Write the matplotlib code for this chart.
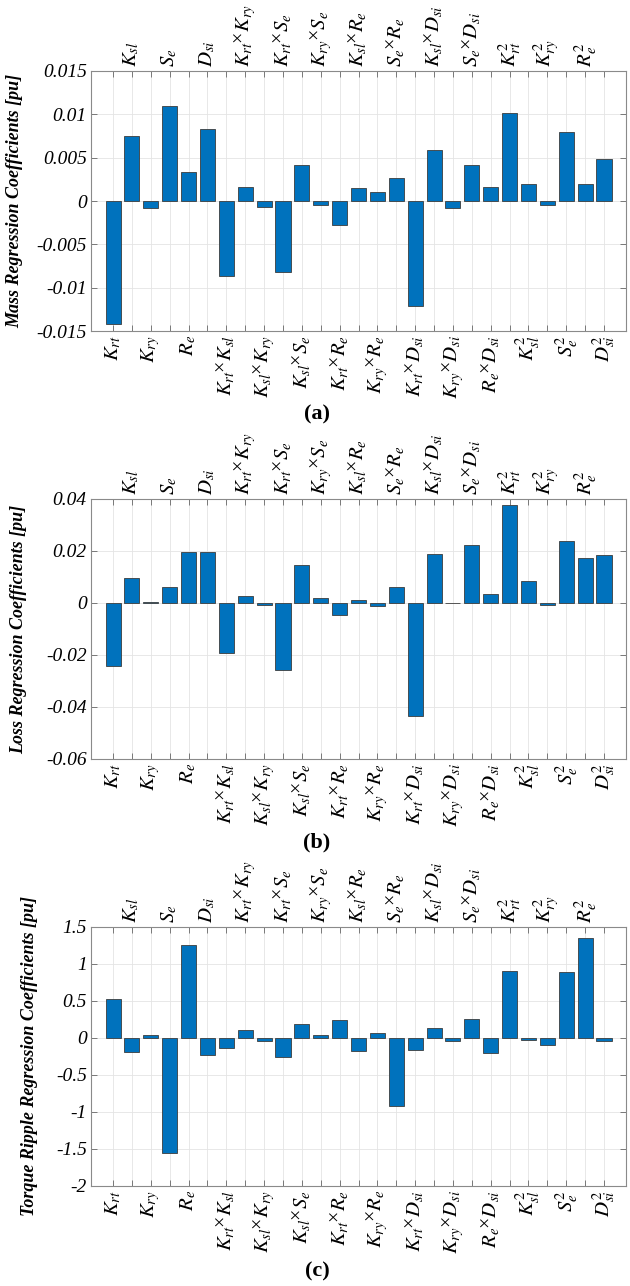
import numpy as np
import matplotlib
matplotlib.use("Agg")
import matplotlib.pyplot as plt
from matplotlib.ticker import FuncFormatter

plt.rcParams['font.family'] = ['Liberation Serif', 'DejaVu Serif']
plt.rcParams['mathtext.fontset'] = 'stix'
plt.rcParams['axes.unicode_minus'] = False

# ----------------------------
# data
# ----------------------------
terms = [
    r'$K_{rt}$', r'$K_{sl}$', r'$K_{ry}$', r'$S_{e}$', r'$R_{e}$', r'$D_{si}$',
    r'$K_{rt}{}^{\times}K_{sl}$', r'$K_{rt}{}^{\times}K_{ry}$', r'$K_{sl}{}^{\times}K_{ry}$',
    r'$K_{rt}{}^{\times}S_{e}$', r'$K_{sl}{}^{\times}S_{e}$', r'$K_{ry}{}^{\times}S_{e}$',
    r'$K_{rt}{}^{\times}R_{e}$', r'$K_{sl}{}^{\times}R_{e}$', r'$K_{ry}{}^{\times}R_{e}$',
    r'$S_{e}{}^{\times}R_{e}$', r'$K_{rt}{}^{\times}D_{si}$', r'$K_{sl}{}^{\times}D_{si}$',
    r'$K_{ry}{}^{\times}D_{si}$', r'$S_{e}{}^{\times}D_{si}$', r'$R_{e}{}^{\times}D_{si}$',
    r'$K^{2}_{rt}$', r'$K^{2}_{sl}$', r'$K^{2}_{ry}$', r'$S^{2}_{e}$', r'$R^{2}_{e}$', r'$D^{2}_{si}$',
]

mass_coef = [
    -0.0142, 0.0075, -0.00085, 0.0110, 0.0034, 0.0083,
    -0.0086, 0.0016, -0.00065, -0.0082, 0.0041, -0.0005,
    -0.0028, 0.00146, 0.00104, 0.0027, -0.0121, 0.0059,
    -0.00085, 0.0042, 0.0016, 0.0101, 0.0020, -0.00046,
    0.0080, 0.0020, 0.0049,
]

loss_coef = [
    -0.0242, 0.0095, 0.0004, 0.0062, 0.0197, 0.0197,
    -0.0194, 0.0026, -0.0009, -0.0256, 0.0145, 0.0020,
    -0.0046, 0.0013, -0.0013, 0.0062, -0.0433, 0.0190,
    -0.0001, 0.0224, 0.0033, 0.0378, 0.0085, -0.0009,
    0.0238, 0.0174, 0.0186,
]

ripple_coef = [
    0.52, -0.19, 0.045, -1.554, 1.252, -0.23,
    -0.13, 0.108, -0.045, -0.257, 0.19, 0.04,
    0.24, -0.17, 0.063, -0.914, -0.162, 0.135,
    -0.04, 0.26, -0.20, 0.905, -0.022, -0.10,
    0.89, 1.35, -0.045,
]

panels = [
    ("Mass Regression Coefficients [pu]", mass_coef, (-0.015, 0.015), 0.005, "(a)"),
    ("Loss Regression Coefficients [pu]", loss_coef, (-0.06, 0.04), 0.02, "(b)"),
    ("Torque Ripple Regression Coefficients [pu]", ripple_coef, (-2, 1.5), 0.5, "(c)"),
]

# axes placement in figure fraction [left, bottom, width, height]
boxes = [
    [0.1444, 0.7426, 0.8488, 0.2022],
    [0.1444, 0.4098, 0.8488, 0.2022],
    [0.1444, 0.0778, 0.8488, 0.2014],
]
ylabel_x = [-0.127, -0.120, -0.099]
letter_y = [0.678, 0.3445, 0.011]


def fmt_tick(v, pos):
    v = round(v, 8)
    if v == 0:
        return "0"
    return "%g" % v


fig = plt.figure(figsize=(6.3, 12.86), dpi=100)
x = np.arange(1, len(terms) + 1)

for i, (ylab, vals, ylim, step, letter) in enumerate(panels):
    ax = fig.add_axes(boxes[i])
    ax.bar(x, vals, width=0.8, color='#0072BD', edgecolor='#3c3c3c',
           linewidth=0.6, zorder=3)

    ax.set_xlim(-0.17, 28.15)
    ax.set_ylim(*ylim)
    n = int(round((ylim[1] - ylim[0]) / step))
    ax.set_yticks([ylim[0] + k * step for k in range(n + 1)])
    ax.yaxis.set_major_formatter(FuncFormatter(fmt_tick))

    ax.set_xticks(x)
    ax.set_xticklabels(terms)
    ax.tick_params(axis='x', top=True, labeltop=True, bottom=True, labelbottom=True,
                   labelrotation=90, labelsize=15, direction='in', length=4,
                   width=0.6, color='#666666', pad=3)
    ax.tick_params(axis='y', left=True, right=True, direction='in', length=4,
                   width=0.6, color='#666666', labelsize=14, pad=3)
    for lbl in ax.get_yticklabels():
        lbl.set_fontstyle('italic')

    # alternate labels between bottom and top axis
    for k, t in enumerate(ax.xaxis.get_major_ticks()):
        t.label1.set_visible(k % 2 == 0)
        t.label2.set_visible(k % 2 == 1)

    ax.grid(True, color='#e4e4e4', linewidth=0.6, zorder=0)
    ax.set_axisbelow(True)
    for s in ax.spines.values():
        s.set_color('#8a8a8a')
        s.set_linewidth(0.8)

    ax.set_ylabel(ylab, fontsize=13, fontweight='bold', fontstyle='italic')
    ax.yaxis.set_label_coords(ylabel_x[i], 0.5)

    fig.text(0.503, letter_y[i], letter, fontsize=16, fontweight='bold',
             ha='center', va='center')

fig.savefig("out.png", dpi=100)
